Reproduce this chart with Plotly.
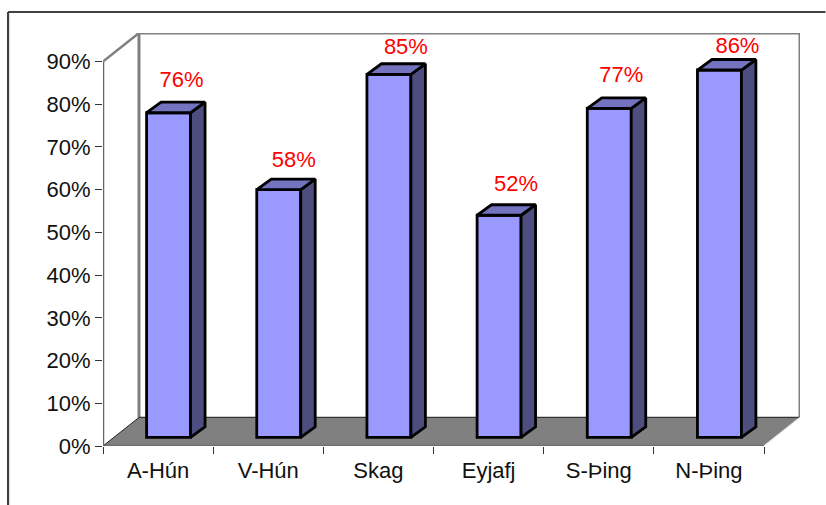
import plotly.graph_objects as go

categories = ["A-Hún", "V-Hún", "Skag", "Eyjafj", "S-Þing", "N-Þing"]
values = [76, 58, 85, 52, 77, 86]
y_ticks = [0, 10, 20, 30, 40, 50, 60, 70, 80, 90]

# nudges of the red labels relative to the bar top, in px
label_dx = [13, 15, 17, 17, 12, 18]
label_dy = [21, 18, 15, 19, 21, 12]

W, H = 826, 505
X0, X1 = 103.0, 800.5   # plot box in px
Y0, Y1 = 446.0, 33.0
CAT_W = 110.25          # px per category
PCT_H = 384.0 / 90      # px per percent

# 3D look, all in px
WALL_DX, WALL_DY = 36, 28.5
BAR_W = 44
BAR_DX, BAR_DY = 14.5, 10.5
BAR_SHIFT_X, BAR_SHIFT_Y = 10.5, 8.6

FRONT = "#9999ff"
TOP = "#7373bf"
SIDE = "#4d4d80"
GREY = "#808080"


def ux(px):
    return px / CAT_W


def uy(px):
    return px / PCT_H


def paper_x(px):
    return (px - X0) / (X1 - X0)


def paper_y(py):
    return (Y0 - py) / (Y0 - Y1)


def poly(fig, xs, ys, fill, line_color="black", width=2.8):
    fig.add_trace(go.Scatter(
        x=xs + xs[:1], y=ys + ys[:1],
        mode="lines",
        fill="toself",
        fillcolor=fill,
        line=dict(color=line_color, width=width),
        hoverinfo="skip",
        showlegend=False,
    ))


def below_line(x0, y0, x1, y1, color, width):
    return dict(type="line", layer="below", xref="x", yref="y",
                x0=x0, y0=y0, x1=x1, y1=y1,
                line=dict(color=color, width=width))


fig = go.Figure()

n = len(categories)
wx, wy = ux(WALL_DX), uy(WALL_DY)
top_y = 90 + wy

# walls and floor go in as shapes, scatter would cover the bar faces
shapes = [
    dict(type="path", layer="below", xref="x", yref="y",
         path=f"M 0 0 L {n} 0 L {n + wx} {wy} L {wx} {wy} Z",
         fillcolor=GREY, line=dict(width=0)),
    below_line(0, 0, 0, 90, "#666666", 2.5),
    below_line(0, 90, wx, top_y, GREY, 2.5),
    below_line(wx, wy, wx, top_y, GREY, 3),
    below_line(wx, top_y, n + wx, top_y, GREY, 3),
    below_line(n + wx, top_y, n + wx, wy, GREY, 3),
    below_line(0, 0, wx, wy, "#222222", 1),
    below_line(wx, wy, n + wx, wy, "#333333", 1.2),
    below_line(n, 0, n + wx, wy, "#f0f0f0", 1.2),
    below_line(0, 0, n, 0, "#6e6e6e", 2.5),
    # outer frame of the slide picture
    dict(type="line", xref="paper", yref="paper",
         x0=paper_x(8), x1=paper_x(W), y0=paper_y(12), y1=paper_y(12),
         line=dict(color="#404040", width=2.2)),
    dict(type="line", xref="paper", yref="paper",
         x0=paper_x(8), x1=paper_x(8), y0=paper_y(12), y1=paper_y(H),
         line=dict(color="#404040", width=2.2)),
]

# bars
sx, sy = ux(BAR_SHIFT_X), uy(BAR_SHIFT_Y)
bw = ux(BAR_W)
dx, dy = ux(BAR_DX), uy(BAR_DY)
centers = [i + 0.5 + sx for i in range(n)]

fig.add_trace(go.Bar(
    x=centers, y=values, base=sy, width=bw,
    marker=dict(color=FRONT, line=dict(color="black", width=2.8)),
    hoverinfo="skip", showlegend=False,
))

for c, v in zip(centers, values):
    r = c + bw / 2
    l = c - bw / 2
    top = v + sy
    poly(fig, [r, r + dx, r + dx, r], [sy, sy + dy, top + dy, top], SIDE)
    poly(fig, [l, r, r + dx, l + dx], [top, top, top + dy, top + dy], TOP)

# red value labels
fig.add_trace(go.Scatter(
    x=[c + ux(d) for c, d in zip(centers, label_dx)],
    y=[v + sy + dy + uy(d) for v, d in zip(values, label_dy)],
    mode="text",
    text=[f"{v}%" for v in values],
    textfont=dict(color="#ff0000", size=22),
    textposition="middle center",
    cliponaxis=False,
    hoverinfo="skip", showlegend=False,
))

fig.update_layout(
    width=W, height=H,
    autosize=False,
    margin=dict(l=X0, r=W - X1, t=Y1, b=H - Y0, pad=0),
    paper_bgcolor="white",
    plot_bgcolor="rgba(0,0,0,0)",
    font=dict(family="Liberation Sans, Arial, sans-serif", size=22, color="#111111"),
    barmode="overlay",
    showlegend=False,
    shapes=shapes,
)
fig.update_xaxes(
    range=[0, n + wx],
    tickmode="array",
    tickvals=[i + 0.5 for i in range(n)],
    ticktext=categories,
    ticks="",
    ticklabelstandoff=9,
    showgrid=False, zeroline=False, showline=False,
    minor=dict(tickmode="array", tickvals=list(range(n + 1)), ticks="outside",
               ticklen=7, tickwidth=1.2, tickcolor="#333333", showgrid=False),
)
fig.update_yaxes(
    range=[0, top_y],
    tickmode="array",
    tickvals=y_ticks,
    ticktext=[f"{t}%" for t in y_ticks],
    ticks="outside", ticklen=7, tickwidth=1.2, tickcolor="#333333",
    showgrid=False, zeroline=False, showline=False,
)

fig.write_html(
    "out.html",
    config=dict(displayModeBar=False),
    post_script="document.body.style.margin='0';document.body.style.overflow='hidden';",
)
